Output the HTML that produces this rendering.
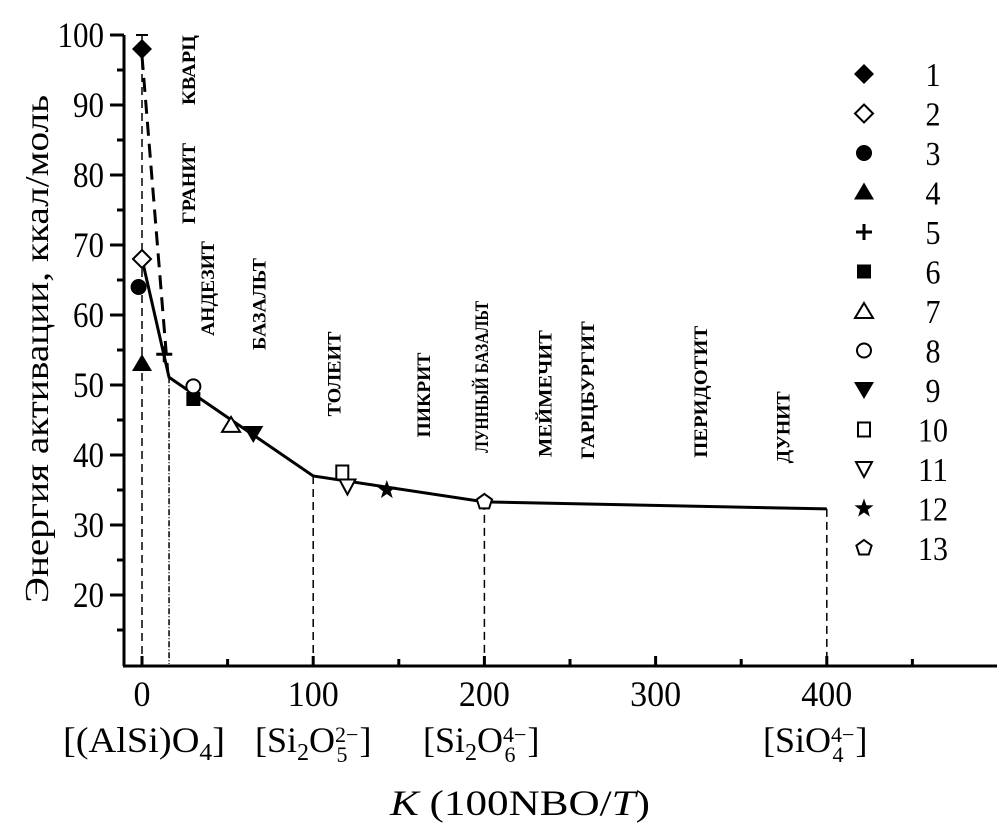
<!DOCTYPE html>
<html><head><meta charset="utf-8"><style>
html,body{margin:0;padding:0;background:#fff;}
svg{display:block;}
svg text{font-family:"Liberation Serif","Times New Roman",serif;}
</style></head><body>
<svg id="chart" width="1004" height="834" viewBox="0 0 1004 834" xmlns="http://www.w3.org/2000/svg">
<g id="axes"></g>
<g id="guides"></g>
<g id="lines"></g>
<g id="points"></g>
<g id="rocks" font-weight="bold" font-size="19"></g>
<g id="legend"></g>
<text transform="translate(48,603) rotate(-90)" font-size="34" textLength="508" lengthAdjust="spacingAndGlyphs">Энергия активации, ккал/моль</text>
<g font-size="36">
<text x="63" y="752" textLength="162" lengthAdjust="spacingAndGlyphs">[(AlSi)O<tspan font-size="24" dy="8">4</tspan><tspan dy="-8">]</tspan></text>
<text x="255" y="752">[Si<tspan font-size="24" dy="8">2</tspan><tspan dy="-8">O</tspan><tspan font-size="22" dy="-10">2−</tspan><tspan font-size="22" dx="-22" dy="20">5</tspan><tspan dx="12" dy="-10">]</tspan></text>
<text x="423" y="752">[Si<tspan font-size="24" dy="8">2</tspan><tspan dy="-8">O</tspan><tspan font-size="22" dy="-10">4−</tspan><tspan font-size="22" dx="-22" dy="20">6</tspan><tspan dx="12" dy="-10">]</tspan></text>
<text x="763" y="752">[SiO<tspan font-size="22" dy="-10">4−</tspan><tspan font-size="22" dx="-22" dy="20">4</tspan><tspan dx="12" dy="-10">]</tspan></text>
</g>
<text x="390" y="815" font-size="36" textLength="260" lengthAdjust="spacingAndGlyphs"><tspan font-style="italic">K</tspan> (100NBO/<tspan font-style="italic">T</tspan>)</text>
</svg>
<script>
const xTicks=[0,100,200,300,400];
const xMinor=[50,150,250,350,450];
const yTicks=[20,30,40,50,60,70,80,90,100];
const yMinor=[15,25,35,45,55,65,75,85,95];
const solidX=[0,15.8,100,200,400];
const solidY=[68,51.1,37,33.3,32.3];
const dashX=[0,15];
const dashY=[97,52];
const guideX=[0,15.8,100,200,400];
const guideY=[100,51.1,37,33.3,32.3];
const ptLabels=['1','2','3','4','5','6','7','8','9','10','11','12','13'];
const ptX=[0,0,-2,0,13,30,52,30,65,117,120,143,200];
const ptY=[98,68,64,53,54.4,48,44.3,49.8,43,37.5,35.5,35,33.3];
const rockNames=['КВАРЦ','ГРАНИТ','АНДЕЗИТ','БАЗАЛЬТ','ТОЛЕИТ','ПИКРИТ','ЛУННЫЙ БАЗАЛЬТ','МЕЙМЕЧИТ','ГАРЦБУРГИТ','ПЕРИДОТИТ','ДУНИТ'];
const rockK=[27,27,38,68,112,164,198,235,260,326,374];
const rockE=[90,73,57,55,45.5,42.5,40.3,39.7,39.4,39.6,38.8];
const rockLen=[70,81,95,92,85,85,152,127,138,132,72];

const NS='http://www.w3.org/2000/svg';
const X=v=>142+1.712*v;
const Y=v=>35+(100-v)*7;
function mk(tag,attrs,parent){const e=document.createElementNS(NS,tag);for(const k in attrs)e.setAttribute(k,attrs[k]);parent.appendChild(e);return e;}
const axes=document.getElementById('axes');
const yAxis=mk('line',{x1:124,y1:Y(100),x2:124,y2:666,stroke:'#000','stroke-width':3},axes);


const xAxis=mk('line',{x1:123,y1:666,x2:997,y2:666,stroke:'#000','stroke-width':3},axes);


yTicks.forEach(v=>{
  const t=mk('line',{x1:110,y1:Y(v),x2:124,y2:Y(v),stroke:'#000','stroke-width':3},axes);
  
  
  const s=String(v);
  const l=mk('text',{x:104,y:Y(v)+12,'font-size':36,'text-anchor':'end',textLength:s.length*15.5,lengthAdjust:'spacingAndGlyphs'},axes);
  
  
  l.textContent=s;
});
yMinor.forEach(v=>{
  const t=mk('line',{x1:117,y1:Y(v),x2:124,y2:Y(v),stroke:'#000','stroke-width':3},axes);
  
  
});
xTicks.forEach(v=>{
  const t=mk('line',{x1:X(v),y1:656,x2:X(v),y2:666,stroke:'#000','stroke-width':3},axes);
  
  
  const s=String(v);
  const l=mk('text',{x:X(v),y:706,'font-size':36,'text-anchor':'middle',textLength:s.length*17,lengthAdjust:'spacingAndGlyphs'},axes);
  
  
  l.textContent=s;
});
xMinor.forEach(v=>{
  const t=mk('line',{x1:X(v),y1:659,x2:X(v),y2:666,stroke:'#000','stroke-width':3},axes);
  
  
});
const guides=document.getElementById('guides');
guideX.forEach((v,i)=>{
  const g=mk('line',{x1:X(v),y1:Y(guideY[i]),x2:X(v),y2:664,stroke:'#000','stroke-width':1.5,'stroke-dasharray':i===1?'6,2,1,2':'8,5'},guides);
  
  
});
const cap=mk('line',{x1:X(0)-6,y1:Y(100),x2:X(0)+6,y2:Y(100),stroke:'#000','stroke-width':2},guides);


const lines=document.getElementById('lines');
const sl=mk('polyline',{points:solidX.map((v,i)=>X(v)+','+Y(solidY[i])).join(' '),fill:'none',stroke:'#000','stroke-width':3},lines);


const dl=mk('polyline',{points:dashX.map((v,i)=>X(v)+','+Y(dashY[i])).join(' '),fill:'none',stroke:'#000','stroke-width':3,'stroke-dasharray':'14,8'},lines);



function marker(idx,cx,cy,parent){
  const g=mk('g',{},parent);
  const f='#000',o={fill:'#fff',stroke:'#000','stroke-width':2};
  switch(idx){
    case 0: mk('polygon',{points:`${cx},${cy-10} ${cx+10},${cy} ${cx},${cy+10} ${cx-10},${cy}`,fill:f},g);break;
    case 1: mk('polygon',Object.assign({points:`${cx},${cy-9} ${cx+9},${cy} ${cx},${cy+9} ${cx-9},${cy}`},o),g);break;
    case 2: mk('circle',{cx:cx,cy:cy,r:8,fill:f},g);break;
    case 3: mk('polygon',{points:`${cx},${cy-10} ${cx+10},${cy+7} ${cx-10},${cy+7}`,fill:f},g);break;
    case 4: mk('path',{d:`M${cx-8},${cy}H${cx+8}M${cx},${cy-8}V${cy+8}`,stroke:'#000','stroke-width':3},g);break;
    case 5: mk('rect',{x:cx-7,y:cy-7,width:14,height:14,fill:f},g);break;
    case 6: mk('polygon',Object.assign({points:`${cx},${cy-8} ${cx+9},${cy+7} ${cx-9},${cy+7}`},o),g);break;
    case 7: mk('circle',Object.assign({cx:cx,cy:cy,r:7},o),g);break;
    case 8: mk('polygon',{points:`${cx-10},${cy-8} ${cx+10},${cy-8} ${cx},${cy+9}`,fill:f},g);break;
    case 9: mk('rect',Object.assign({x:cx-6,y:cy-7,width:12,height:14},o),g);break;
    case 10: mk('polygon',Object.assign({points:`${cx-8},${cy-7} ${cx+8},${cy-7} ${cx},${cy+8}`},o),g);break;
    case 11:{let p=[];for(let k=0;k<10;k++){const r=k%2?4:10,a=-Math.PI/2+k*Math.PI/5;p.push((cx+r*Math.cos(a)).toFixed(1)+','+(cy+r*Math.sin(a)).toFixed(1));}mk('polygon',{points:p.join(' '),fill:f},g);break;}
    case 12:{let p=[];for(let k=0;k<5;k++){const a=-Math.PI/2+k*2*Math.PI/5;p.push((cx+8*Math.cos(a)).toFixed(1)+','+(cy+8*Math.sin(a)).toFixed(1));}mk('polygon',Object.assign({points:p.join(' ')},o),g);break;}
  }
  return g;
}
const pts=document.getElementById('points');
ptX.forEach((v,i)=>{
  const m=marker(i,X(v),Y(ptY[i]),pts);
  
  
});
const leg=document.getElementById('legend');
ptLabels.forEach((lab,i)=>{
  const cy=74+i*39.5;
  const m=marker(i,864,cy,leg);
  
  
  const t=mk('text',{x:933,y:cy+12,'font-size':34,'text-anchor':'middle',textLength:lab.length*15,lengthAdjust:'spacingAndGlyphs'},leg);
  
  
  t.textContent=lab;
});
const rocks=document.getElementById('rocks');
rockNames.forEach((n,i)=>{
  const t=mk('text',{transform:`translate(${X(rockK[i])+7},${Y(rockE[i])}) rotate(-90)`,textLength:rockLen[i],lengthAdjust:'spacingAndGlyphs'},rocks);
  
  
  t.textContent=n;
});
</script>
</body></html>
